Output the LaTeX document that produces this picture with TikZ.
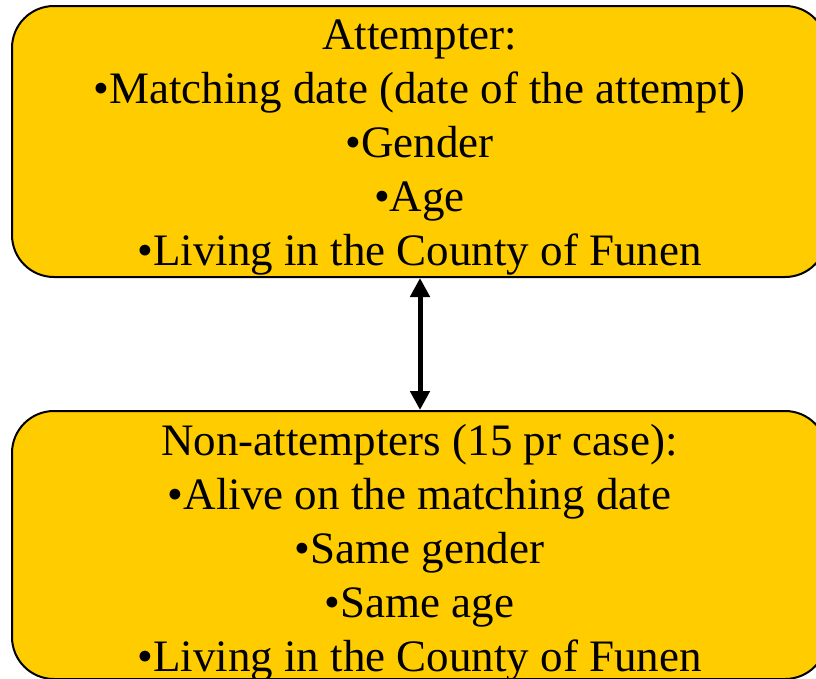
\documentclass[tikz,border=0pt]{standalone}
\usepackage{fontspec}
\setmainfont{Liberation Serif}
\usetikzlibrary{arrows.meta}
\definecolor{boxfill}{RGB}{255,204,0}
\begin{document}
\begin{tikzpicture}[x=1pt,y=-1pt,
  card/.style={draw=black,line width=2pt,fill=boxfill,rounded corners=42pt,
    minimum width=815pt,inner sep=0pt},
  txt/.style={anchor=base,inner sep=0pt,font=\fontsize{45}{54}\selectfont},
  link/.style={line width=5pt,{Triangle[width=19pt,length=19pt]}-{Triangle[width=19pt,length=19pt]}}]
\useasboundingbox (0,0) rectangle (816,678);
\node[card,minimum height=271pt] (top) at (419.5,141.5) {};
\node[card,minimum height=268pt] (bot) at (419.5,545) {};
\node[txt] (t1) at (419.5,49.5) {Attempter:};
\node[txt] (t2) at (419.5,103.5) {•Matching date (date of the attempt)};
\node[txt] (t3) at (419.5,157.5) {•Gender};
\node[txt] (t4) at (419.5,211.5) {•Age};
\node[txt] (t5) at (419.5,265.5) {•Living in the County of Funen};
\node[txt] (b1) at (419.5,455.5) {Non-attempters (15 pr case):};
\node[txt] (b2) at (419.5,509.5) {•Alive on the matching date};
\node[txt] (b3) at (419.5,563.5) {•Same gender};
\node[txt] (b4) at (419.5,617.5) {•Same age};
\node[txt] (b5) at (419.5,671.5) {•Living in the County of Funen};
\draw[link] (top.south -| 420,0) -- (bot.north -| 420,0);
\end{tikzpicture}
\end{document}
